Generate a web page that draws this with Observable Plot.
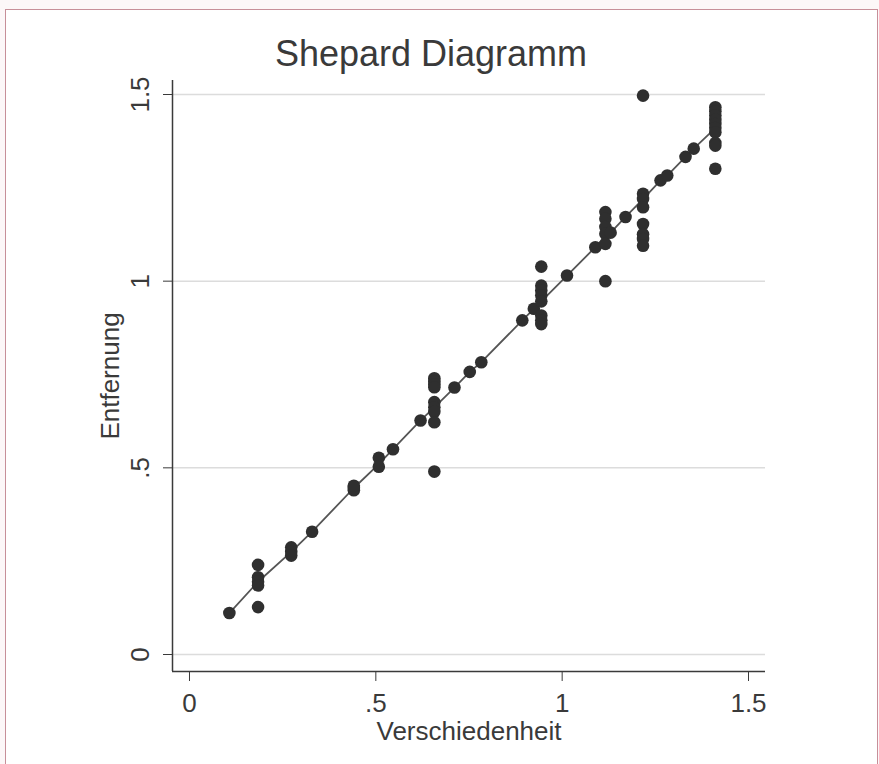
<!DOCTYPE html>
<html><head><meta charset="utf-8">
<script src="https://cdn.jsdelivr.net/npm/d3@7"></script>
<script src="https://cdn.jsdelivr.net/npm/@observablehq/plot@0.6"></script>
<style>
html,body{margin:0;padding:0;overflow:hidden;background:#fcf7f8;width:879px;height:764px;}
#frame{position:absolute;left:5px;top:9px;width:871px;height:800px;border:1.5px solid #c78f99;background:#fff;}
#chart{position:absolute;left:0;top:0;}
</style></head><body>
<div id="frame"></div><div id="chart"></div>
<script>
const title = "Shepard Diagramm";
const xLabel = "Verschiedenheit";
const yLabel = "Entfernung";
const tickValues = [0, 0.5, 1, 1.5];
const tickLabels = ["0", ".5", "1", "1.5"];

// observed points: dissimilarity (x) vs. distance (y)
const dissimilarity = [
  0.107,
  0.184, 0.184, 0.184, 0.184, 0.184,
  0.273, 0.273, 0.273,
  0.329,
  0.441, 0.441, 0.441,
  0.508, 0.508,
  0.546,
  0.620,
  0.657, 0.657, 0.657, 0.657, 0.657, 0.657, 0.657, 0.657, 0.657,
  0.711,
  0.752,
  0.783,
  0.893,
  0.924,
  0.944, 0.944, 0.944, 0.944, 0.944, 0.944, 0.944, 0.944,
  1.013,
  1.089,
  1.116, 1.116, 1.116, 1.116, 1.116, 1.116,
  1.130,
  1.170,
  1.217, 1.217, 1.217, 1.217, 1.217, 1.217, 1.217, 1.217,
  1.264,
  1.282,
  1.331,
  1.353,
  1.411, 1.411, 1.411, 1.411, 1.411, 1.411, 1.411, 1.411, 1.411, 1.411
];
const distance = [
  0.111,
  0.240, 0.207, 0.195, 0.185, 0.127,
  0.287, 0.275, 0.265,
  0.329,
  0.440, 0.446, 0.452,
  0.527, 0.503,
  0.550,
  0.627,
  0.740, 0.732, 0.724, 0.716, 0.676, 0.662, 0.650, 0.622, 0.490,
  0.715,
  0.757,
  0.783,
  0.895,
  0.926,
  1.039, 0.988, 0.975, 0.962, 0.946, 0.908, 0.895, 0.885,
  1.015,
  1.091,
  1.185, 1.167, 1.145, 1.127, 1.100, 1.000,
  1.130,
  1.172,
  1.497, 1.234, 1.220, 1.198, 1.153, 1.126, 1.113, 1.095,
  1.270,
  1.283,
  1.333,
  1.355,
  1.466, 1.455, 1.444, 1.432, 1.421, 1.410, 1.399, 1.370, 1.363, 1.301
];

// fitted disparities (line)
const fitX = [0.107, 0.184, 0.273, 0.329, 0.441, 0.508, 0.546, 0.620, 0.657, 0.711, 0.752, 0.783, 0.893, 0.924, 0.944, 1.013, 1.089, 1.116, 1.130, 1.170, 1.217, 1.264, 1.282, 1.331, 1.353, 1.411];
const fitY = [0.111, 0.195, 0.275, 0.329, 0.446, 0.510, 0.550, 0.627, 0.662, 0.715, 0.757, 0.783, 0.895, 0.926, 0.946, 1.015, 1.091, 1.120, 1.130, 1.172, 1.220, 1.270, 1.283, 1.333, 1.355, 1.410];

const xDomain = [-0.0456, 1.5456];
const yDomain = [-0.0455, 1.5375];

const points = dissimilarity.map((d, i) => ({x: d, y: distance[i]}));
const fit = fitX.map((d, i) => ({x: d, y: fitY[i]}));
const ink = "#3a3a3a";
const lbl = d => tickLabels[tickValues.indexOf(d)];

const plot = Plot.plot({
  width: 879, height: 764,
  marginLeft: 172, marginRight: 114, marginTop: 80, marginBottom: 93,
  style: {fontFamily: "'Liberation Sans', Arial, sans-serif", background: "transparent", color: ink, overflow: "visible"},
  x: {domain: xDomain},
  y: {domain: yDomain},
  marks: [
    Plot.gridY(tickValues, {stroke: "#dcdcdc", strokeOpacity: 1, strokeWidth: 1.5}),
    Plot.ruleX([xDomain[0]], {stroke: ink, strokeWidth: 1.5}),
    Plot.ruleY([yDomain[0]], {stroke: ink, strokeWidth: 1.5}),
    Plot.axisX(tickValues, {tickSize: 10, tickPadding: 12, fontSize: 26, tickFormat: lbl, label: null, stroke: ink}),
    Plot.axisY(tickValues, {tickSize: 9, tickFormat: () => "", label: null, stroke: ink}),
    Plot.text(tickValues, {y: d => d, frameAnchor: "left", dx: -32, rotate: -90, textAnchor: "middle", lineAnchor: "middle", text: lbl, fontSize: 26, fill: ink}),
    Plot.line(fit, {x: "x", y: "y", stroke: "#555", strokeWidth: 1.8}),
    Plot.dot(points, {x: "x", y: "y", r: 6.3, fill: "#2f2f2f"}),
    Plot.text([title], {frameAnchor: "top", dx: -38, dy: -26.5, textAnchor: "middle", lineAnchor: "middle", fontSize: 36, fill: ink}),
    Plot.text([xLabel], {frameAnchor: "bottom", dy: 60, textAnchor: "middle", lineAnchor: "middle", fontSize: 26, fill: ink}),
    Plot.text([yLabel], {frameAnchor: "left", dx: -62, rotate: -90, textAnchor: "middle", lineAnchor: "middle", fontSize: 26, fill: ink})
  ]
});
document.getElementById("chart").appendChild(plot);
</script>
</body></html>
